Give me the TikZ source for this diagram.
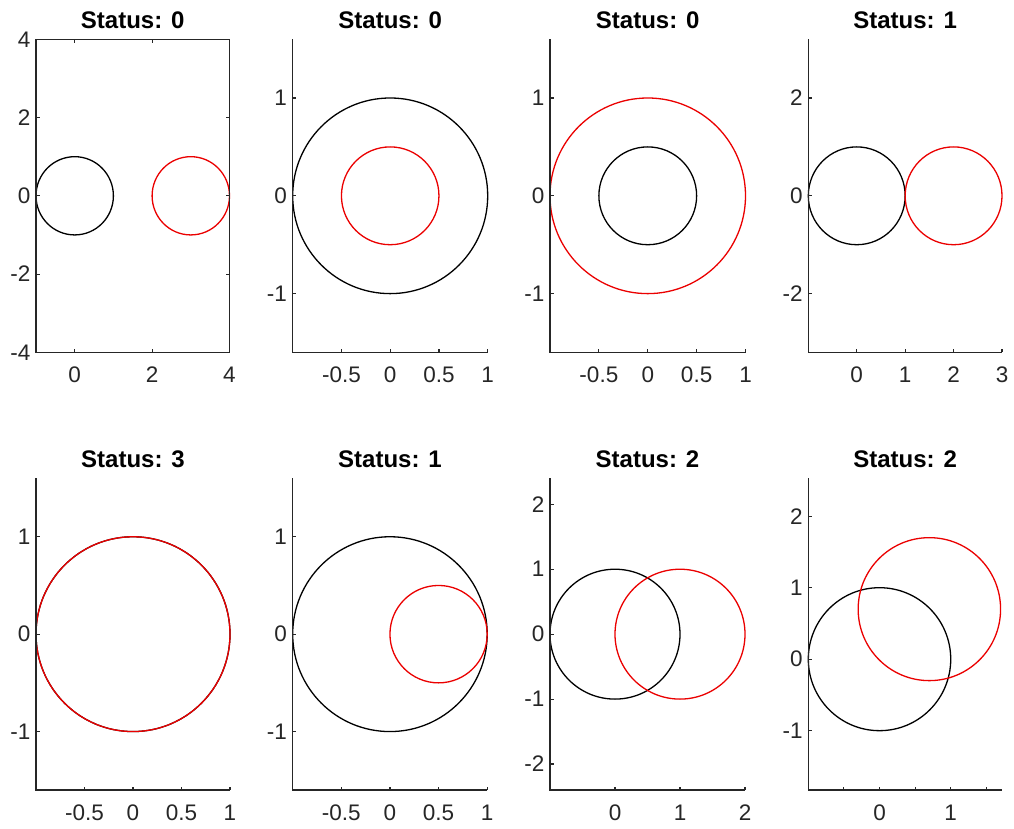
\documentclass[tikz,border=0pt]{standalone}
\usepackage{fontspec}
\setmainfont{Liberation Sans}
\definecolor{axgray}{RGB}{38,38,38}
\definecolor{circred}{RGB}{235,0,0}
\newcommand\setpanel[8]{%
  \pgfmathsetmacro\ux{((#3)-(#1))/((#6)-(#5))}%
  \pgfmathsetmacro\uy{((#4)-(#2))/((#8)-(#7))}%
  \pgfmathsetmacro\ox{(#1)-(#5)*\ux}%
  \pgfmathsetmacro\oy{-(#2)-(#8)*\uy}%
  \def\xa{#5}\def\xb{#6}\def\ya{#7}\def\yb{#8}%
}
\tikzset{
  panel/.style={shift={(\ox pt,\oy pt)}, x=\ux pt, y=\uy pt},
  axisline/.style={draw=axgray, line width=1.1pt},
  ticklab/.style={text=axgray, font=\fontsize{22.5}{27}\selectfont, inner sep=0pt},
  xlab/.style={ticklab, anchor=base, yshift=-30.5pt},
  ylab/.style={ticklab, anchor=east, xshift=-5.5pt},
  ptitle/.style={font=\fontsize{24}{28}\selectfont\bfseries, inner sep=0pt, anchor=base},
  blackcirc/.style={draw=black, line width=1.3pt},
  redcirc/.style={draw=circred, line width=1.3pt},
}
\newcommand\leftbottomaxes{%
  \draw[axisline] (\xa,\yb) -- (\xa,\ya) -- (\xb,\ya);}
\begin{document}
\begin{tikzpicture}
\useasboundingbox (0pt,0pt) rectangle (1014pt,-828pt);
\fill[white] (0pt,0pt) rectangle (1014pt,-828pt);

% ---------- Panel 1 ----------
\setpanel{36}{39.3}{229.5}{352.3}{-1}{4}{-4}{4}
\begin{scope}[panel]
  \draw[blackcirc] (0,0) circle [radius=1];
  \draw[redcirc] (3,0) circle [radius=1];
  \draw[axisline] (\xa,\ya) rectangle (\xb,\yb);
  \foreach \t [count=\i] in {0,2,4} {
    \draw[axisline] (\t,\ya) -- ++(0pt,3.5pt);
    \draw[axisline] (\t,\yb) -- ++(0pt,-3.5pt);
    \node[xlab] (pax\i) at (\t,\ya) {\t};
  }
  \foreach \t [count=\i] in {-4,-2,0,2,4} {
    \draw[axisline] (\xa,\t) -- ++(3.5pt,0pt);
    \draw[axisline] (\xb,\t) -- ++(-3.5pt,0pt);
    \node[ylab] (pay\i) at (\xa,\t) {\t};
  }
\end{scope}
\node[ptitle] (t1) at (132.75pt,-28.8pt) {Status: 0};

% ---------- Panel 2 ----------
\setpanel{292.7}{39.3}{487.7}{352.3}{-1}{1}{-1.6}{1.6}
\begin{scope}[panel]
  \draw[blackcirc] (0,0) circle [radius=1];
  \draw[redcirc] (0,0) circle [radius=0.5];
  \leftbottomaxes
  \foreach \t [count=\i] in {-0.5,0,0.5,1} {
    \draw[axisline] (\t,\ya) -- ++(0pt,3.5pt);
    \node[xlab] (pbx\i) at (\t,\ya) {\t};
  }
  \foreach \t [count=\i] in {-1,0,1} {
    \draw[axisline] (\xa,\t) -- ++(3.5pt,0pt);
    \node[ylab] (pby\i) at (\xa,\t) {\t};
  }
\end{scope}
\node[ptitle] (t2) at (390.2pt,-28.8pt) {Status: 0};

% ---------- Panel 3 ----------
\setpanel{550}{39.3}{745.5}{352.3}{-1}{1}{-1.6}{1.6}
\begin{scope}[panel]
  \draw[blackcirc] (0,0) circle [radius=0.5];
  \draw[redcirc] (0,0) circle [radius=1];
  \leftbottomaxes
  \foreach \t [count=\i] in {-0.5,0,0.5,1} {
    \draw[axisline] (\t,\ya) -- ++(0pt,3.5pt);
    \node[xlab] (pcx\i) at (\t,\ya) {\t};
  }
  \foreach \t [count=\i] in {-1,0,1} {
    \draw[axisline] (\xa,\t) -- ++(3.5pt,0pt);
    \node[ylab] (pcy\i) at (\xa,\t) {\t};
  }
\end{scope}
\node[ptitle] (t3) at (647.75pt,-28.8pt) {Status: 0};

% ---------- Panel 4 ----------
\setpanel{808.3}{39.3}{1002}{352.3}{-1}{3}{-3.2}{3.2}
\begin{scope}[panel]
  \draw[blackcirc] (0,0) circle [radius=1];
  \draw[redcirc] (2,0) circle [radius=1];
  \leftbottomaxes
  \foreach \t [count=\i] in {0,1,2,3} {
    \draw[axisline] (\t,\ya) -- ++(0pt,3.5pt);
    \node[xlab] (pdx\i) at (\t,\ya) {\t};
  }
  \foreach \t [count=\i] in {-2,0,2} {
    \draw[axisline] (\xa,\t) -- ++(3.5pt,0pt);
    \node[ylab] (pdy\i) at (\xa,\t) {\t};
  }
\end{scope}
\node[ptitle] (t4) at (905.15pt,-28.8pt) {Status: 1};

% ---------- Panel 5 ----------
\setpanel{36}{478.3}{230}{790}{-1}{1}{-1.6}{1.6}
\begin{scope}[panel]
  \draw[blackcirc] (0,0) circle [radius=1];
  \draw[redcirc] (0,0) circle [radius=1];
  \leftbottomaxes
  \foreach \t [count=\i] in {-0.5,0,0.5,1} {
    \draw[axisline] (\t,\ya) -- ++(0pt,3.5pt);
    \node[xlab] (pex\i) at (\t,\ya) {\t};
  }
  \foreach \t [count=\i] in {-1,0,1} {
    \draw[axisline] (\xa,\t) -- ++(3.5pt,0pt);
    \node[ylab] (pey\i) at (\xa,\t) {\t};
  }
\end{scope}
\node[ptitle] (t5) at (133pt,-467.3pt) {Status: 3};

% ---------- Panel 6 ----------
\setpanel{292.7}{478.3}{487.2}{790}{-1}{1}{-1.6}{1.6}
\begin{scope}[panel]
  \draw[blackcirc] (0,0) circle [radius=1];
  \draw[redcirc] (0.5,0) circle [radius=0.5];
  \leftbottomaxes
  \foreach \t [count=\i] in {-0.5,0,0.5,1} {
    \draw[axisline] (\t,\ya) -- ++(0pt,3.5pt);
    \node[xlab] (pfx\i) at (\t,\ya) {\t};
  }
  \foreach \t [count=\i] in {-1,0,1} {
    \draw[axisline] (\xa,\t) -- ++(3.5pt,0pt);
    \node[ylab] (pfy\i) at (\xa,\t) {\t};
  }
\end{scope}
\node[ptitle] (t6) at (390pt,-467.3pt) {Status: 1};

% ---------- Panel 7 ----------
\setpanel{550}{478.3}{745}{790}{-1}{2}{-2.4}{2.4}
\begin{scope}[panel]
  \draw[blackcirc] (0,0) circle [radius=1];
  \draw[redcirc] (1,0) circle [radius=1];
  \leftbottomaxes
  \foreach \t [count=\i] in {0,1,2} {
    \draw[axisline] (\t,\ya) -- ++(0pt,3.5pt);
    \node[xlab] (pgx\i) at (\t,\ya) {\t};
  }
  \foreach \t [count=\i] in {-2,-1,0,1,2} {
    \draw[axisline] (\xa,\t) -- ++(3.5pt,0pt);
    \node[ylab] (pgy\i) at (\xa,\t) {\t};
  }
\end{scope}
\node[ptitle] (t7) at (647.5pt,-467.3pt) {Status: 2};

% ---------- Panel 8 ----------
\setpanel{808.3}{478.3}{1002}{790}{-1}{1.72}{-1.83}{2.53}
\begin{scope}[panel]
  \draw[blackcirc] (0,0) circle [radius=1];
  \draw[redcirc] (0.7,0.7) circle [radius=1];
  \leftbottomaxes
  \foreach \t in {-0.5,0,0.5,1,1.5} {
    \draw[axisline] (\t,\ya) -- ++(0pt,3.5pt);
  }
  \foreach \t [count=\i] in {0,1} {
    \node[xlab] (phx\i) at (\t,\ya) {\t};
  }
  \foreach \t [count=\i] in {-1,0,1,2} {
    \draw[axisline] (\xa,\t) -- ++(3.5pt,0pt);
    \node[ylab] (phy\i) at (\xa,\t) {\t};
  }
\end{scope}
\node[ptitle] (t8) at (905.15pt,-467.3pt) {Status: 2};
\end{tikzpicture}
\end{document}
